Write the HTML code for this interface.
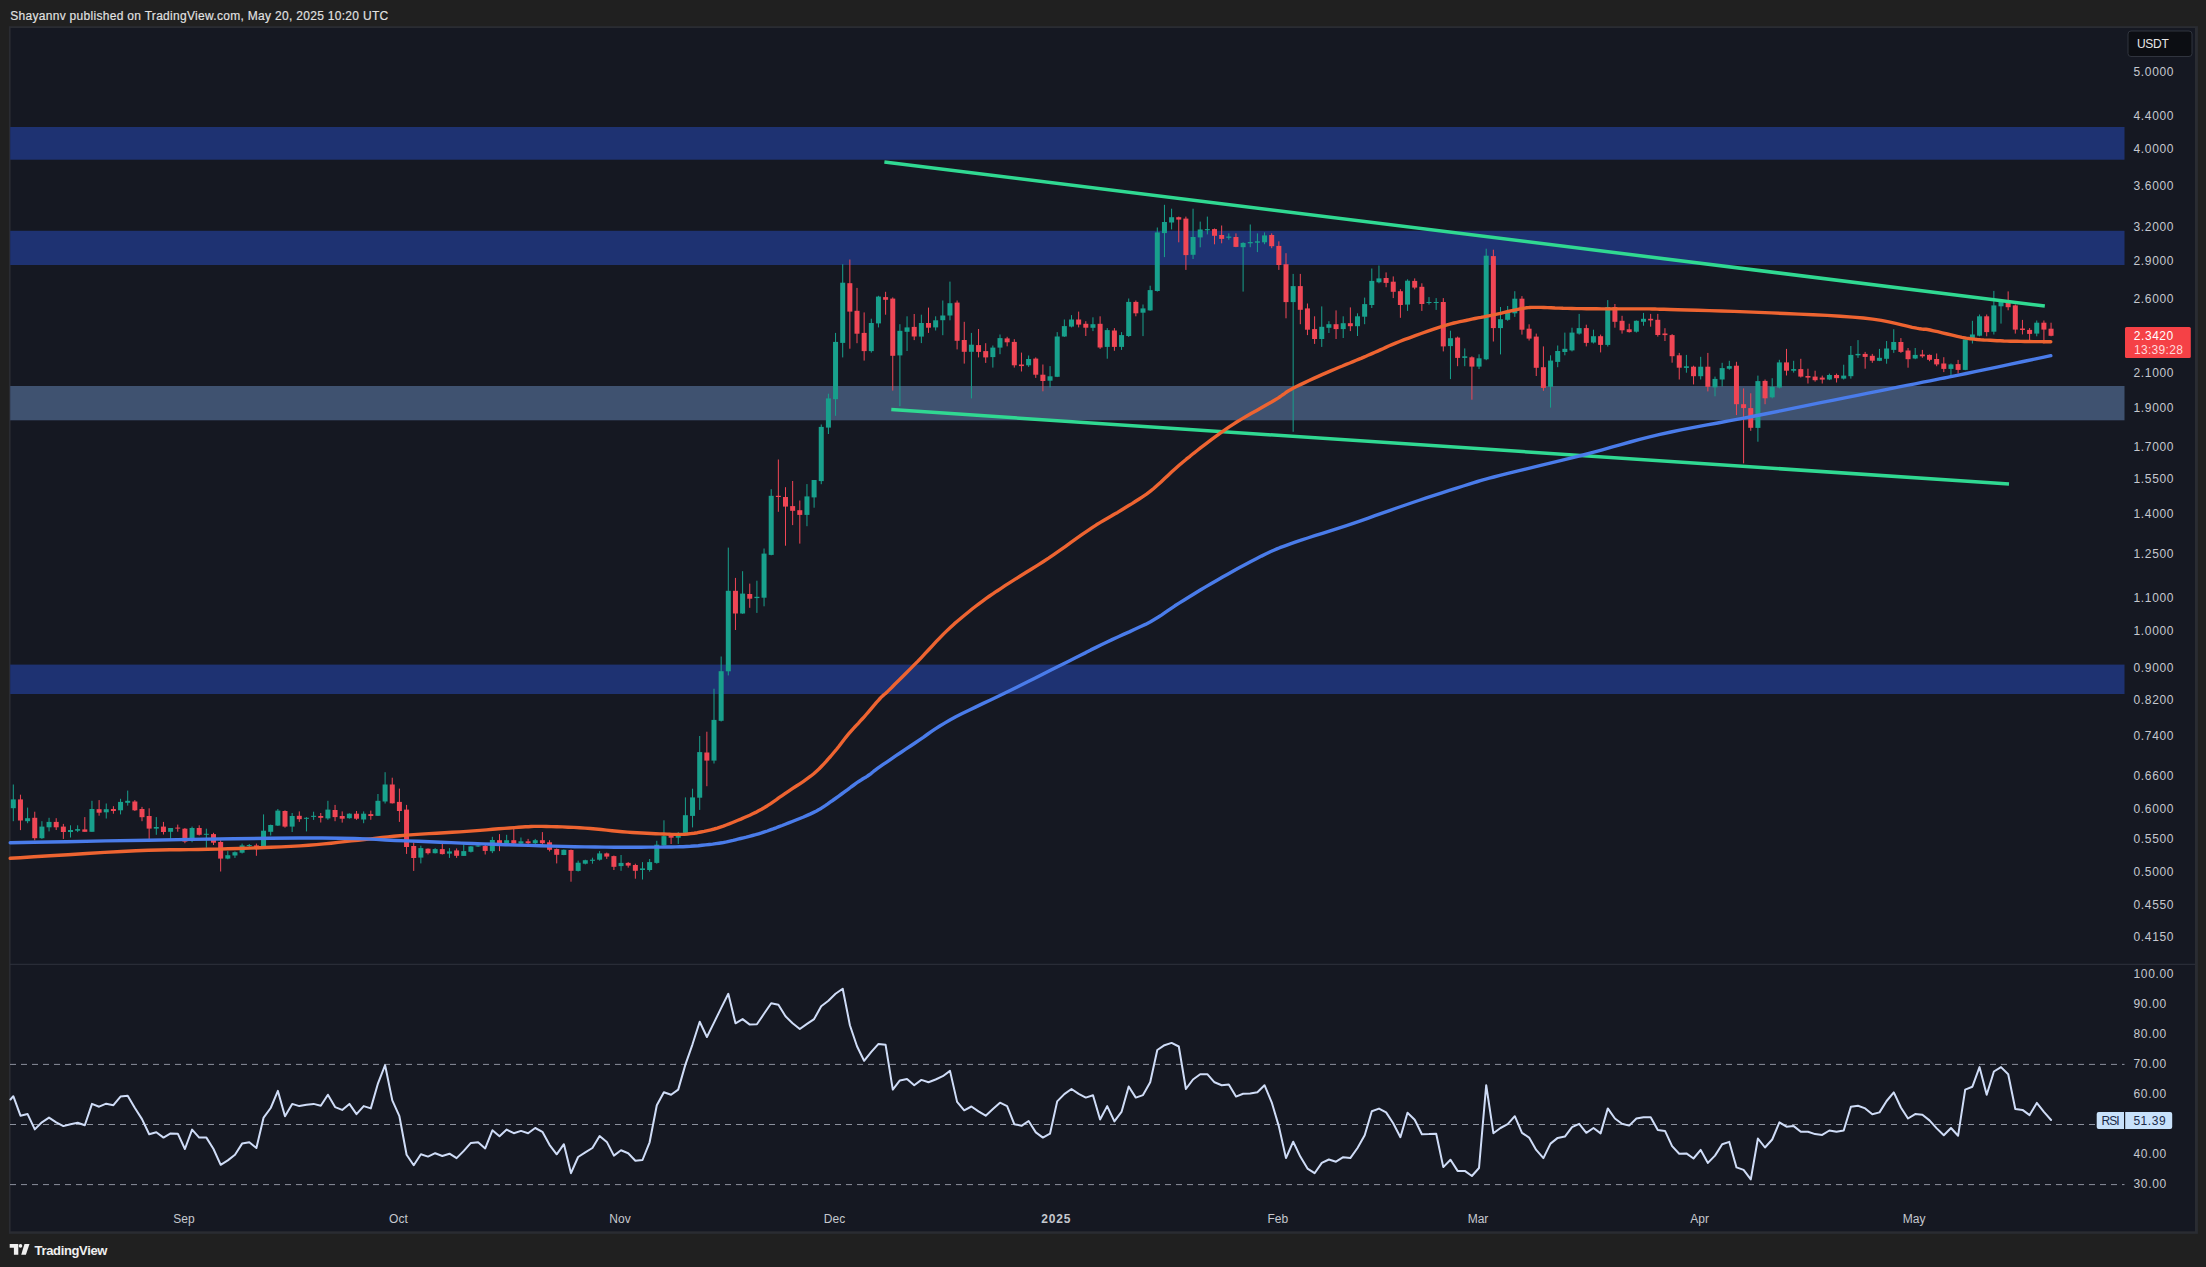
<!DOCTYPE html>
<html><head><meta charset="utf-8"><title>Chart</title>
<style>html,body{margin:0;padding:0;background:#202020;}body{width:2206px;height:1267px;overflow:hidden;font-family:"Liberation Sans",sans-serif;}</style>
</head><body>
<svg width="2206" height="1267" viewBox="0 0 2206 1267" style="display:block">
<rect width="2206" height="1267" fill="#202020"/>
<rect x="8.9" y="26.2" width="2189" height="1207.6" fill="#2a2c32"/>
<rect x="10.6" y="28" width="2184.4" height="1203.3" fill="#151822"/>
<rect x="10.2" y="127" width="2114.3" height="32.7" fill="#1e3272"/>
<rect x="10.2" y="230.8" width="2114.3" height="34.2" fill="#1e3272"/>
<rect x="10.2" y="386" width="2114.3" height="34.3" fill="#3f5270"/>
<rect x="10.2" y="664.6" width="2114.3" height="29.4" fill="#1e3272"/>
<rect x="10" y="963.8" width="2185" height="1" fill="#2e323d"/>
<rect x="12.80" y="784.5" width="1" height="36.7" fill="#18a08c"/>
<rect x="10.80" y="799.4" width="5" height="8.8" fill="#18a08c"/>
<rect x="19.95" y="794.7" width="1" height="35.4" fill="#f04655"/>
<rect x="17.95" y="799.4" width="5" height="21.1" fill="#f04655"/>
<rect x="27.10" y="807.6" width="1" height="15.6" fill="#18a08c"/>
<rect x="25.10" y="818.2" width="5" height="3.0" fill="#18a08c"/>
<rect x="34.25" y="811.7" width="1" height="28.6" fill="#f04655"/>
<rect x="32.25" y="817.8" width="5" height="20.4" fill="#f04655"/>
<rect x="41.40" y="821.2" width="1" height="17.7" fill="#18a08c"/>
<rect x="39.40" y="826.6" width="5" height="11.6" fill="#18a08c"/>
<rect x="48.55" y="817.8" width="1" height="13.6" fill="#18a08c"/>
<rect x="46.55" y="821.9" width="5" height="5.4" fill="#18a08c"/>
<rect x="55.70" y="818.2" width="1" height="11.8" fill="#f04655"/>
<rect x="53.70" y="821.9" width="5" height="5.4" fill="#f04655"/>
<rect x="62.85" y="823.9" width="1" height="15.0" fill="#f04655"/>
<rect x="60.85" y="826.6" width="5" height="5.4" fill="#f04655"/>
<rect x="70.00" y="825.3" width="1" height="12.2" fill="#18a08c"/>
<rect x="68.00" y="830.0" width="5" height="2.0" fill="#18a08c"/>
<rect x="77.15" y="825.3" width="1" height="6.8" fill="#18a08c"/>
<rect x="75.15" y="829.1" width="5" height="1.6" fill="#18a08c"/>
<rect x="84.30" y="817.1" width="1" height="14.7" fill="#f04655"/>
<rect x="82.30" y="829.4" width="5" height="2.4" fill="#f04655"/>
<rect x="91.45" y="800.8" width="1" height="31.0" fill="#18a08c"/>
<rect x="89.45" y="809.0" width="5" height="22.8" fill="#18a08c"/>
<rect x="98.60" y="800.1" width="1" height="15.6" fill="#f04655"/>
<rect x="96.60" y="809.2" width="5" height="3.5" fill="#f04655"/>
<rect x="105.75" y="803.5" width="1" height="15.0" fill="#18a08c"/>
<rect x="103.75" y="809.2" width="5" height="3.1" fill="#18a08c"/>
<rect x="112.90" y="806.2" width="1" height="7.5" fill="#f04655"/>
<rect x="110.90" y="809.0" width="5" height="2.0" fill="#f04655"/>
<rect x="120.05" y="798.8" width="1" height="15.6" fill="#18a08c"/>
<rect x="118.05" y="801.9" width="5" height="8.4" fill="#18a08c"/>
<rect x="127.20" y="790.6" width="1" height="15.0" fill="#18a08c"/>
<rect x="125.20" y="800.8" width="5" height="2.0" fill="#18a08c"/>
<rect x="134.35" y="800.1" width="1" height="10.9" fill="#f04655"/>
<rect x="132.35" y="801.5" width="5" height="8.8" fill="#f04655"/>
<rect x="141.50" y="806.9" width="1" height="14.3" fill="#f04655"/>
<rect x="139.50" y="809.0" width="5" height="8.2" fill="#f04655"/>
<rect x="148.65" y="808.3" width="1" height="31.3" fill="#f04655"/>
<rect x="146.65" y="816.0" width="5" height="12.6" fill="#f04655"/>
<rect x="155.80" y="817.1" width="1" height="17.7" fill="#18a08c"/>
<rect x="153.80" y="827.0" width="5" height="1.6" fill="#18a08c"/>
<rect x="162.95" y="821.9" width="1" height="12.6" fill="#f04655"/>
<rect x="160.95" y="826.6" width="5" height="5.4" fill="#f04655"/>
<rect x="170.10" y="828.0" width="1" height="12.2" fill="#18a08c"/>
<rect x="168.10" y="828.0" width="5" height="3.8" fill="#18a08c"/>
<rect x="177.25" y="824.6" width="1" height="7.1" fill="#f04655"/>
<rect x="175.25" y="827.6" width="5" height="1.0" fill="#f04655"/>
<rect x="184.40" y="828.0" width="1" height="15.2" fill="#f04655"/>
<rect x="182.40" y="828.7" width="5" height="12.9" fill="#f04655"/>
<rect x="191.55" y="826.6" width="1" height="15.6" fill="#18a08c"/>
<rect x="189.55" y="828.0" width="5" height="12.9" fill="#18a08c"/>
<rect x="198.70" y="825.3" width="1" height="10.2" fill="#f04655"/>
<rect x="196.70" y="828.0" width="5" height="6.8" fill="#f04655"/>
<rect x="205.85" y="828.7" width="1" height="19.0" fill="#18a08c"/>
<rect x="203.85" y="833.8" width="5" height="1.0" fill="#18a08c"/>
<rect x="213.00" y="832.8" width="1" height="12.2" fill="#f04655"/>
<rect x="211.00" y="834.1" width="5" height="8.6" fill="#f04655"/>
<rect x="220.15" y="840.2" width="1" height="31.3" fill="#f04655"/>
<rect x="218.15" y="842.0" width="5" height="16.6" fill="#f04655"/>
<rect x="227.30" y="851.1" width="1" height="8.2" fill="#18a08c"/>
<rect x="225.30" y="855.2" width="5" height="3.4" fill="#18a08c"/>
<rect x="234.45" y="851.4" width="1" height="6.5" fill="#18a08c"/>
<rect x="232.45" y="852.2" width="5" height="3.3" fill="#18a08c"/>
<rect x="241.60" y="843.6" width="1" height="9.9" fill="#18a08c"/>
<rect x="239.60" y="845.4" width="5" height="7.3" fill="#18a08c"/>
<rect x="248.75" y="844.0" width="1" height="3.0" fill="#18a08c"/>
<rect x="246.75" y="845.0" width="5" height="1.0" fill="#18a08c"/>
<rect x="255.90" y="843.6" width="1" height="12.2" fill="#f04655"/>
<rect x="253.90" y="845.4" width="5" height="3.7" fill="#f04655"/>
<rect x="263.05" y="814.4" width="1" height="34.0" fill="#18a08c"/>
<rect x="261.05" y="830.7" width="5" height="16.3" fill="#18a08c"/>
<rect x="270.20" y="824.6" width="1" height="10.9" fill="#18a08c"/>
<rect x="268.20" y="825.0" width="5" height="6.8" fill="#18a08c"/>
<rect x="277.35" y="809.0" width="1" height="17.0" fill="#18a08c"/>
<rect x="275.35" y="810.6" width="5" height="15.0" fill="#18a08c"/>
<rect x="284.50" y="810.3" width="1" height="17.4" fill="#f04655"/>
<rect x="282.50" y="811.0" width="5" height="15.6" fill="#f04655"/>
<rect x="291.65" y="813.0" width="1" height="19.0" fill="#18a08c"/>
<rect x="289.65" y="816.0" width="5" height="10.6" fill="#18a08c"/>
<rect x="298.80" y="811.4" width="1" height="10.5" fill="#f04655"/>
<rect x="296.80" y="815.8" width="5" height="3.4" fill="#f04655"/>
<rect x="305.95" y="817.1" width="1" height="14.3" fill="#18a08c"/>
<rect x="303.95" y="817.8" width="5" height="1.0" fill="#18a08c"/>
<rect x="313.10" y="811.7" width="1" height="8.2" fill="#18a08c"/>
<rect x="311.10" y="815.8" width="5" height="1.1" fill="#18a08c"/>
<rect x="320.25" y="813.0" width="1" height="9.5" fill="#f04655"/>
<rect x="318.25" y="816.0" width="5" height="1.8" fill="#f04655"/>
<rect x="327.40" y="800.8" width="1" height="19.0" fill="#18a08c"/>
<rect x="325.40" y="809.6" width="5" height="8.8" fill="#18a08c"/>
<rect x="334.55" y="804.9" width="1" height="16.3" fill="#f04655"/>
<rect x="332.55" y="810.0" width="5" height="7.1" fill="#f04655"/>
<rect x="341.70" y="811.4" width="1" height="11.2" fill="#f04655"/>
<rect x="339.70" y="816.0" width="5" height="2.7" fill="#f04655"/>
<rect x="348.85" y="813.3" width="1" height="5.4" fill="#18a08c"/>
<rect x="346.85" y="813.7" width="5" height="4.5" fill="#18a08c"/>
<rect x="356.00" y="811.0" width="1" height="8.8" fill="#f04655"/>
<rect x="354.00" y="813.7" width="5" height="5.0" fill="#f04655"/>
<rect x="363.15" y="811.4" width="1" height="11.8" fill="#18a08c"/>
<rect x="361.15" y="813.7" width="5" height="5.8" fill="#18a08c"/>
<rect x="370.30" y="810.6" width="1" height="9.2" fill="#f04655"/>
<rect x="368.30" y="814.1" width="5" height="1.9" fill="#f04655"/>
<rect x="377.45" y="794.0" width="1" height="22.0" fill="#18a08c"/>
<rect x="375.45" y="800.8" width="5" height="15.0" fill="#18a08c"/>
<rect x="384.60" y="772.2" width="1" height="31.3" fill="#18a08c"/>
<rect x="382.60" y="784.5" width="5" height="17.0" fill="#18a08c"/>
<rect x="391.75" y="777.7" width="1" height="25.8" fill="#f04655"/>
<rect x="389.75" y="784.5" width="5" height="18.8" fill="#f04655"/>
<rect x="398.90" y="788.6" width="1" height="33.3" fill="#f04655"/>
<rect x="396.90" y="801.9" width="5" height="9.1" fill="#f04655"/>
<rect x="406.05" y="804.9" width="1" height="49.0" fill="#f04655"/>
<rect x="404.05" y="809.6" width="5" height="37.4" fill="#f04655"/>
<rect x="413.20" y="842.3" width="1" height="28.6" fill="#f04655"/>
<rect x="411.20" y="846.0" width="5" height="12.0" fill="#f04655"/>
<rect x="420.35" y="845.7" width="1" height="17.7" fill="#18a08c"/>
<rect x="418.35" y="848.1" width="5" height="9.5" fill="#18a08c"/>
<rect x="427.50" y="848.4" width="1" height="6.1" fill="#f04655"/>
<rect x="425.50" y="848.7" width="5" height="4.5" fill="#f04655"/>
<rect x="434.65" y="848.1" width="1" height="5.4" fill="#18a08c"/>
<rect x="432.65" y="849.1" width="5" height="4.1" fill="#18a08c"/>
<rect x="441.80" y="841.6" width="1" height="12.9" fill="#f04655"/>
<rect x="439.80" y="849.1" width="5" height="5.0" fill="#f04655"/>
<rect x="448.95" y="848.1" width="1" height="9.8" fill="#18a08c"/>
<rect x="446.95" y="851.4" width="5" height="2.2" fill="#18a08c"/>
<rect x="456.10" y="848.4" width="1" height="9.5" fill="#f04655"/>
<rect x="454.10" y="850.4" width="5" height="5.4" fill="#f04655"/>
<rect x="463.25" y="844.3" width="1" height="11.6" fill="#18a08c"/>
<rect x="461.25" y="851.1" width="5" height="4.8" fill="#18a08c"/>
<rect x="470.40" y="846.0" width="1" height="6.5" fill="#18a08c"/>
<rect x="468.40" y="846.4" width="5" height="5.4" fill="#18a08c"/>
<rect x="477.55" y="844.3" width="1" height="2.7" fill="#18a08c"/>
<rect x="475.55" y="845.4" width="5" height="1.1" fill="#18a08c"/>
<rect x="484.70" y="845.0" width="1" height="9.5" fill="#f04655"/>
<rect x="482.70" y="846.0" width="5" height="4.9" fill="#f04655"/>
<rect x="491.85" y="836.8" width="1" height="16.3" fill="#18a08c"/>
<rect x="489.85" y="840.0" width="5" height="11.2" fill="#18a08c"/>
<rect x="499.00" y="834.1" width="1" height="17.0" fill="#f04655"/>
<rect x="497.00" y="840.2" width="5" height="3.4" fill="#f04655"/>
<rect x="506.15" y="834.8" width="1" height="10.2" fill="#18a08c"/>
<rect x="504.15" y="840.2" width="5" height="3.4" fill="#18a08c"/>
<rect x="513.30" y="828.0" width="1" height="17.0" fill="#f04655"/>
<rect x="511.30" y="840.2" width="5" height="3.4" fill="#f04655"/>
<rect x="520.45" y="837.5" width="1" height="6.8" fill="#18a08c"/>
<rect x="518.45" y="841.3" width="5" height="2.3" fill="#18a08c"/>
<rect x="527.60" y="838.9" width="1" height="6.1" fill="#f04655"/>
<rect x="525.60" y="841.3" width="5" height="1.9" fill="#f04655"/>
<rect x="534.75" y="838.9" width="1" height="6.1" fill="#18a08c"/>
<rect x="532.75" y="840.2" width="5" height="3.0" fill="#18a08c"/>
<rect x="541.90" y="832.1" width="1" height="13.6" fill="#f04655"/>
<rect x="539.90" y="840.2" width="5" height="3.0" fill="#f04655"/>
<rect x="549.05" y="840.2" width="1" height="11.2" fill="#f04655"/>
<rect x="547.05" y="842.3" width="5" height="7.5" fill="#f04655"/>
<rect x="556.20" y="848.4" width="1" height="15.0" fill="#f04655"/>
<rect x="554.20" y="849.1" width="5" height="5.7" fill="#f04655"/>
<rect x="563.35" y="849.5" width="1" height="5.7" fill="#18a08c"/>
<rect x="561.35" y="849.8" width="5" height="5.2" fill="#18a08c"/>
<rect x="570.50" y="849.5" width="1" height="32.2" fill="#f04655"/>
<rect x="568.50" y="850.0" width="5" height="20.8" fill="#f04655"/>
<rect x="577.65" y="860.6" width="1" height="10.9" fill="#18a08c"/>
<rect x="575.65" y="862.7" width="5" height="8.2" fill="#18a08c"/>
<rect x="584.80" y="859.7" width="1" height="4.7" fill="#18a08c"/>
<rect x="582.80" y="860.2" width="5" height="3.5" fill="#18a08c"/>
<rect x="591.95" y="857.7" width="1" height="6.0" fill="#18a08c"/>
<rect x="589.95" y="859.7" width="5" height="1.1" fill="#18a08c"/>
<rect x="599.10" y="851.1" width="1" height="9.5" fill="#18a08c"/>
<rect x="597.10" y="853.4" width="5" height="6.3" fill="#18a08c"/>
<rect x="606.25" y="852.6" width="1" height="6.3" fill="#f04655"/>
<rect x="604.25" y="853.4" width="5" height="3.2" fill="#f04655"/>
<rect x="613.40" y="855.5" width="1" height="14.5" fill="#f04655"/>
<rect x="611.40" y="856.1" width="5" height="10.7" fill="#f04655"/>
<rect x="620.55" y="855.0" width="1" height="15.8" fill="#18a08c"/>
<rect x="618.55" y="862.9" width="5" height="3.2" fill="#18a08c"/>
<rect x="627.70" y="862.1" width="1" height="5.5" fill="#f04655"/>
<rect x="625.70" y="862.9" width="5" height="2.7" fill="#f04655"/>
<rect x="634.85" y="863.7" width="1" height="15.0" fill="#f04655"/>
<rect x="632.85" y="865.0" width="5" height="5.8" fill="#f04655"/>
<rect x="642.00" y="862.1" width="1" height="17.4" fill="#18a08c"/>
<rect x="640.00" y="868.4" width="5" height="1.6" fill="#18a08c"/>
<rect x="649.15" y="859.0" width="1" height="12.6" fill="#18a08c"/>
<rect x="647.15" y="862.1" width="5" height="7.9" fill="#18a08c"/>
<rect x="656.30" y="840.8" width="1" height="22.9" fill="#18a08c"/>
<rect x="654.30" y="844.7" width="5" height="18.2" fill="#18a08c"/>
<rect x="663.45" y="820.3" width="1" height="26.1" fill="#18a08c"/>
<rect x="661.45" y="836.1" width="5" height="9.5" fill="#18a08c"/>
<rect x="670.60" y="832.9" width="1" height="11.1" fill="#f04655"/>
<rect x="668.60" y="834.5" width="5" height="3.2" fill="#f04655"/>
<rect x="677.75" y="832.1" width="1" height="11.8" fill="#18a08c"/>
<rect x="675.75" y="835.3" width="5" height="2.4" fill="#18a08c"/>
<rect x="684.90" y="797.4" width="1" height="35.5" fill="#18a08c"/>
<rect x="682.90" y="815.2" width="5" height="17.7" fill="#18a08c"/>
<rect x="692.05" y="788.7" width="1" height="38.7" fill="#18a08c"/>
<rect x="690.05" y="797.4" width="5" height="18.5" fill="#18a08c"/>
<rect x="699.20" y="736.0" width="1" height="73.9" fill="#18a08c"/>
<rect x="697.20" y="752.1" width="5" height="45.6" fill="#18a08c"/>
<rect x="706.35" y="731.7" width="1" height="54.5" fill="#f04655"/>
<rect x="704.35" y="752.5" width="5" height="8.1" fill="#f04655"/>
<rect x="713.50" y="688.7" width="1" height="74.8" fill="#18a08c"/>
<rect x="711.50" y="719.9" width="5" height="40.7" fill="#18a08c"/>
<rect x="720.65" y="656.5" width="1" height="65.0" fill="#18a08c"/>
<rect x="718.65" y="671.2" width="5" height="49.6" fill="#18a08c"/>
<rect x="727.80" y="547.6" width="1" height="127.8" fill="#18a08c"/>
<rect x="725.80" y="590.8" width="5" height="80.5" fill="#18a08c"/>
<rect x="734.95" y="577.9" width="1" height="52.1" fill="#f04655"/>
<rect x="732.95" y="590.8" width="5" height="22.7" fill="#f04655"/>
<rect x="742.10" y="571.2" width="1" height="42.6" fill="#18a08c"/>
<rect x="740.10" y="593.6" width="5" height="19.9" fill="#18a08c"/>
<rect x="749.25" y="583.6" width="1" height="24.2" fill="#f04655"/>
<rect x="747.25" y="594.0" width="5" height="4.7" fill="#f04655"/>
<rect x="756.40" y="580.7" width="1" height="32.2" fill="#18a08c"/>
<rect x="754.40" y="596.8" width="5" height="1.3" fill="#18a08c"/>
<rect x="763.55" y="548.5" width="1" height="57.8" fill="#18a08c"/>
<rect x="761.55" y="553.6" width="5" height="44.1" fill="#18a08c"/>
<rect x="770.70" y="489.2" width="1" height="66.1" fill="#18a08c"/>
<rect x="768.70" y="495.8" width="5" height="59.1" fill="#18a08c"/>
<rect x="777.85" y="459.5" width="1" height="52.3" fill="#f04655"/>
<rect x="775.85" y="495.8" width="5" height="1.2" fill="#f04655"/>
<rect x="785.00" y="487.2" width="1" height="58.5" fill="#f04655"/>
<rect x="783.00" y="497.0" width="5" height="9.6" fill="#f04655"/>
<rect x="792.15" y="481.0" width="1" height="44.1" fill="#f04655"/>
<rect x="790.15" y="506.1" width="5" height="4.7" fill="#f04655"/>
<rect x="799.30" y="500.5" width="1" height="43.1" fill="#f04655"/>
<rect x="797.30" y="510.2" width="5" height="4.7" fill="#f04655"/>
<rect x="806.45" y="484.1" width="1" height="42.1" fill="#18a08c"/>
<rect x="804.45" y="496.4" width="5" height="18.5" fill="#18a08c"/>
<rect x="813.60" y="480.0" width="1" height="27.7" fill="#18a08c"/>
<rect x="811.60" y="480.0" width="5" height="17.4" fill="#18a08c"/>
<rect x="820.75" y="424.5" width="1" height="59.7" fill="#18a08c"/>
<rect x="818.75" y="426.9" width="5" height="54.2" fill="#18a08c"/>
<rect x="827.90" y="393.7" width="1" height="40.3" fill="#18a08c"/>
<rect x="825.90" y="398.4" width="5" height="29.2" fill="#18a08c"/>
<rect x="835.05" y="332.9" width="1" height="82.9" fill="#18a08c"/>
<rect x="833.05" y="341.9" width="5" height="57.3" fill="#18a08c"/>
<rect x="842.20" y="264.2" width="1" height="93.2" fill="#18a08c"/>
<rect x="840.20" y="282.7" width="5" height="60.2" fill="#18a08c"/>
<rect x="849.35" y="259.5" width="1" height="89.2" fill="#f04655"/>
<rect x="847.35" y="283.2" width="5" height="28.4" fill="#f04655"/>
<rect x="856.50" y="287.9" width="1" height="55.3" fill="#f04655"/>
<rect x="854.50" y="310.8" width="5" height="22.9" fill="#f04655"/>
<rect x="863.65" y="312.4" width="1" height="48.2" fill="#f04655"/>
<rect x="861.65" y="332.9" width="5" height="18.2" fill="#f04655"/>
<rect x="870.80" y="318.7" width="1" height="33.9" fill="#18a08c"/>
<rect x="868.80" y="323.0" width="5" height="28.1" fill="#18a08c"/>
<rect x="877.95" y="295.8" width="1" height="31.6" fill="#18a08c"/>
<rect x="875.95" y="296.6" width="5" height="26.8" fill="#18a08c"/>
<rect x="885.10" y="291.8" width="1" height="22.9" fill="#f04655"/>
<rect x="883.10" y="297.1" width="5" height="2.7" fill="#f04655"/>
<rect x="892.25" y="297.4" width="1" height="93.2" fill="#f04655"/>
<rect x="890.25" y="298.6" width="5" height="57.2" fill="#f04655"/>
<rect x="899.40" y="324.2" width="1" height="82.1" fill="#18a08c"/>
<rect x="897.40" y="330.8" width="5" height="24.6" fill="#18a08c"/>
<rect x="906.55" y="316.3" width="1" height="34.7" fill="#18a08c"/>
<rect x="904.55" y="327.4" width="5" height="4.4" fill="#18a08c"/>
<rect x="913.70" y="314.0" width="1" height="26.1" fill="#f04655"/>
<rect x="911.70" y="326.9" width="5" height="9.6" fill="#f04655"/>
<rect x="920.85" y="314.7" width="1" height="28.4" fill="#18a08c"/>
<rect x="918.85" y="323.0" width="5" height="13.6" fill="#18a08c"/>
<rect x="928.00" y="307.6" width="1" height="25.3" fill="#f04655"/>
<rect x="926.00" y="323.0" width="5" height="4.7" fill="#f04655"/>
<rect x="935.15" y="316.3" width="1" height="14.2" fill="#18a08c"/>
<rect x="933.15" y="320.3" width="5" height="7.1" fill="#18a08c"/>
<rect x="942.30" y="300.5" width="1" height="34.7" fill="#18a08c"/>
<rect x="940.30" y="315.5" width="5" height="4.7" fill="#18a08c"/>
<rect x="949.45" y="281.6" width="1" height="38.7" fill="#18a08c"/>
<rect x="947.45" y="303.2" width="5" height="12.3" fill="#18a08c"/>
<rect x="956.60" y="300.5" width="1" height="48.9" fill="#f04655"/>
<rect x="954.60" y="302.6" width="5" height="38.2" fill="#f04655"/>
<rect x="963.75" y="321.8" width="1" height="41.8" fill="#f04655"/>
<rect x="961.75" y="340.0" width="5" height="11.8" fill="#f04655"/>
<rect x="970.90" y="332.9" width="1" height="65.5" fill="#18a08c"/>
<rect x="968.90" y="344.7" width="5" height="7.1" fill="#18a08c"/>
<rect x="978.05" y="329.0" width="1" height="28.4" fill="#f04655"/>
<rect x="976.05" y="345.1" width="5" height="6.8" fill="#f04655"/>
<rect x="985.20" y="343.2" width="1" height="19.7" fill="#f04655"/>
<rect x="983.20" y="351.1" width="5" height="6.3" fill="#f04655"/>
<rect x="992.35" y="345.5" width="1" height="22.1" fill="#18a08c"/>
<rect x="990.35" y="347.6" width="5" height="9.5" fill="#18a08c"/>
<rect x="999.50" y="334.5" width="1" height="19.7" fill="#18a08c"/>
<rect x="997.50" y="338.1" width="5" height="9.5" fill="#18a08c"/>
<rect x="1006.65" y="336.8" width="1" height="9.5" fill="#f04655"/>
<rect x="1004.65" y="338.4" width="5" height="3.9" fill="#f04655"/>
<rect x="1013.80" y="339.2" width="1" height="28.4" fill="#f04655"/>
<rect x="1011.80" y="341.9" width="5" height="23.4" fill="#f04655"/>
<rect x="1020.95" y="352.6" width="1" height="18.9" fill="#f04655"/>
<rect x="1018.95" y="364.5" width="5" height="1.6" fill="#f04655"/>
<rect x="1028.10" y="355.5" width="1" height="11.4" fill="#18a08c"/>
<rect x="1026.10" y="359.0" width="5" height="6.3" fill="#18a08c"/>
<rect x="1035.25" y="357.4" width="1" height="20.5" fill="#f04655"/>
<rect x="1033.25" y="358.6" width="5" height="16.1" fill="#f04655"/>
<rect x="1042.40" y="364.5" width="1" height="26.8" fill="#f04655"/>
<rect x="1040.40" y="374.7" width="5" height="6.3" fill="#f04655"/>
<rect x="1049.55" y="366.1" width="1" height="21.3" fill="#18a08c"/>
<rect x="1047.55" y="376.3" width="5" height="4.4" fill="#18a08c"/>
<rect x="1056.70" y="332.1" width="1" height="45.0" fill="#18a08c"/>
<rect x="1054.70" y="336.5" width="5" height="40.3" fill="#18a08c"/>
<rect x="1063.85" y="319.5" width="1" height="17.4" fill="#18a08c"/>
<rect x="1061.85" y="326.1" width="5" height="10.4" fill="#18a08c"/>
<rect x="1071.00" y="315.1" width="1" height="12.3" fill="#18a08c"/>
<rect x="1069.00" y="319.5" width="5" height="7.1" fill="#18a08c"/>
<rect x="1078.15" y="311.6" width="1" height="15.8" fill="#f04655"/>
<rect x="1076.15" y="319.5" width="5" height="5.1" fill="#f04655"/>
<rect x="1085.30" y="321.2" width="1" height="14.8" fill="#f04655"/>
<rect x="1083.30" y="323.8" width="5" height="3.9" fill="#f04655"/>
<rect x="1092.45" y="317.3" width="1" height="13.8" fill="#18a08c"/>
<rect x="1090.45" y="324.2" width="5" height="3.6" fill="#18a08c"/>
<rect x="1099.60" y="316.3" width="1" height="32.6" fill="#f04655"/>
<rect x="1097.60" y="323.8" width="5" height="23.7" fill="#f04655"/>
<rect x="1106.75" y="328.1" width="1" height="30.6" fill="#18a08c"/>
<rect x="1104.75" y="330.1" width="5" height="16.8" fill="#18a08c"/>
<rect x="1113.90" y="328.1" width="1" height="22.7" fill="#f04655"/>
<rect x="1111.90" y="330.5" width="5" height="16.4" fill="#f04655"/>
<rect x="1121.05" y="332.1" width="1" height="17.8" fill="#18a08c"/>
<rect x="1119.05" y="335.1" width="5" height="11.8" fill="#18a08c"/>
<rect x="1128.20" y="298.5" width="1" height="38.5" fill="#18a08c"/>
<rect x="1126.20" y="301.9" width="5" height="34.1" fill="#18a08c"/>
<rect x="1135.35" y="300.5" width="1" height="15.8" fill="#f04655"/>
<rect x="1133.35" y="301.9" width="5" height="11.4" fill="#f04655"/>
<rect x="1142.50" y="304.5" width="1" height="31.6" fill="#18a08c"/>
<rect x="1140.50" y="308.4" width="5" height="4.3" fill="#18a08c"/>
<rect x="1149.65" y="285.7" width="1" height="25.1" fill="#18a08c"/>
<rect x="1147.65" y="290.1" width="5" height="20.3" fill="#18a08c"/>
<rect x="1156.80" y="227.5" width="1" height="64.1" fill="#18a08c"/>
<rect x="1154.80" y="232.4" width="5" height="58.6" fill="#18a08c"/>
<rect x="1163.95" y="204.8" width="1" height="52.3" fill="#18a08c"/>
<rect x="1161.95" y="222.0" width="5" height="11.1" fill="#18a08c"/>
<rect x="1171.10" y="208.7" width="1" height="20.7" fill="#18a08c"/>
<rect x="1169.10" y="217.2" width="5" height="5.3" fill="#18a08c"/>
<rect x="1178.25" y="216.6" width="1" height="25.7" fill="#f04655"/>
<rect x="1176.25" y="217.2" width="5" height="2.4" fill="#f04655"/>
<rect x="1185.40" y="216.6" width="1" height="53.3" fill="#f04655"/>
<rect x="1183.40" y="218.6" width="5" height="36.5" fill="#f04655"/>
<rect x="1192.55" y="208.7" width="1" height="50.3" fill="#18a08c"/>
<rect x="1190.55" y="237.0" width="5" height="17.8" fill="#18a08c"/>
<rect x="1199.70" y="221.6" width="1" height="25.7" fill="#18a08c"/>
<rect x="1197.70" y="229.5" width="5" height="7.9" fill="#18a08c"/>
<rect x="1206.85" y="216.6" width="1" height="17.8" fill="#18a08c"/>
<rect x="1204.85" y="229.1" width="5" height="1.2" fill="#18a08c"/>
<rect x="1214.00" y="228.5" width="1" height="15.8" fill="#f04655"/>
<rect x="1212.00" y="229.1" width="5" height="6.7" fill="#f04655"/>
<rect x="1221.15" y="225.5" width="1" height="17.8" fill="#f04655"/>
<rect x="1219.15" y="235.0" width="5" height="3.9" fill="#f04655"/>
<rect x="1228.30" y="233.4" width="1" height="6.3" fill="#18a08c"/>
<rect x="1226.30" y="236.6" width="5" height="1.2" fill="#18a08c"/>
<rect x="1235.45" y="233.4" width="1" height="13.8" fill="#f04655"/>
<rect x="1233.45" y="237.0" width="5" height="9.9" fill="#f04655"/>
<rect x="1242.60" y="242.3" width="1" height="49.3" fill="#18a08c"/>
<rect x="1240.60" y="242.9" width="5" height="4.3" fill="#18a08c"/>
<rect x="1249.75" y="224.5" width="1" height="22.7" fill="#18a08c"/>
<rect x="1247.75" y="242.1" width="5" height="1.2" fill="#18a08c"/>
<rect x="1256.90" y="233.4" width="1" height="18.7" fill="#18a08c"/>
<rect x="1254.90" y="241.3" width="5" height="1.4" fill="#18a08c"/>
<rect x="1264.05" y="232.4" width="1" height="11.8" fill="#18a08c"/>
<rect x="1262.05" y="235.4" width="5" height="6.9" fill="#18a08c"/>
<rect x="1271.20" y="233.4" width="1" height="14.8" fill="#f04655"/>
<rect x="1269.20" y="235.0" width="5" height="11.2" fill="#f04655"/>
<rect x="1278.35" y="241.3" width="1" height="28.6" fill="#f04655"/>
<rect x="1276.35" y="245.9" width="5" height="19.1" fill="#f04655"/>
<rect x="1285.50" y="253.2" width="1" height="65.1" fill="#f04655"/>
<rect x="1283.50" y="264.2" width="5" height="37.9" fill="#f04655"/>
<rect x="1292.65" y="273.9" width="1" height="157.9" fill="#18a08c"/>
<rect x="1290.65" y="286.1" width="5" height="16.0" fill="#18a08c"/>
<rect x="1299.80" y="273.9" width="1" height="50.3" fill="#f04655"/>
<rect x="1297.80" y="286.1" width="5" height="23.7" fill="#f04655"/>
<rect x="1306.95" y="303.5" width="1" height="31.6" fill="#f04655"/>
<rect x="1304.95" y="308.4" width="5" height="21.3" fill="#f04655"/>
<rect x="1314.10" y="316.3" width="1" height="27.6" fill="#f04655"/>
<rect x="1312.10" y="329.1" width="5" height="9.9" fill="#f04655"/>
<rect x="1321.25" y="306.4" width="1" height="40.5" fill="#18a08c"/>
<rect x="1319.25" y="326.8" width="5" height="12.2" fill="#18a08c"/>
<rect x="1328.40" y="321.2" width="1" height="11.8" fill="#18a08c"/>
<rect x="1326.40" y="324.2" width="5" height="3.6" fill="#18a08c"/>
<rect x="1335.55" y="310.4" width="1" height="28.6" fill="#f04655"/>
<rect x="1333.55" y="324.2" width="5" height="4.9" fill="#f04655"/>
<rect x="1342.70" y="316.3" width="1" height="21.7" fill="#18a08c"/>
<rect x="1340.70" y="323.2" width="5" height="5.9" fill="#18a08c"/>
<rect x="1349.85" y="307.4" width="1" height="23.7" fill="#f04655"/>
<rect x="1347.85" y="323.2" width="5" height="3.0" fill="#f04655"/>
<rect x="1357.00" y="313.3" width="1" height="22.7" fill="#18a08c"/>
<rect x="1355.00" y="316.3" width="5" height="9.9" fill="#18a08c"/>
<rect x="1364.15" y="297.6" width="1" height="26.6" fill="#18a08c"/>
<rect x="1362.15" y="304.1" width="5" height="12.6" fill="#18a08c"/>
<rect x="1371.30" y="268.5" width="1" height="39.5" fill="#18a08c"/>
<rect x="1369.30" y="280.9" width="5" height="24.1" fill="#18a08c"/>
<rect x="1378.45" y="265.5" width="1" height="17.8" fill="#18a08c"/>
<rect x="1376.45" y="278.4" width="5" height="3.9" fill="#18a08c"/>
<rect x="1385.60" y="272.4" width="1" height="14.8" fill="#f04655"/>
<rect x="1383.60" y="278.0" width="5" height="4.9" fill="#f04655"/>
<rect x="1392.75" y="276.4" width="1" height="21.7" fill="#f04655"/>
<rect x="1390.75" y="281.7" width="5" height="10.1" fill="#f04655"/>
<rect x="1399.90" y="289.2" width="1" height="28.6" fill="#f04655"/>
<rect x="1397.90" y="291.2" width="5" height="13.8" fill="#f04655"/>
<rect x="1407.05" y="279.3" width="1" height="31.6" fill="#18a08c"/>
<rect x="1405.05" y="280.7" width="5" height="23.9" fill="#18a08c"/>
<rect x="1414.20" y="278.4" width="1" height="10.9" fill="#f04655"/>
<rect x="1412.20" y="280.9" width="5" height="6.7" fill="#f04655"/>
<rect x="1421.35" y="283.3" width="1" height="27.6" fill="#f04655"/>
<rect x="1419.35" y="286.8" width="5" height="17.2" fill="#f04655"/>
<rect x="1428.50" y="297.1" width="1" height="7.5" fill="#18a08c"/>
<rect x="1426.50" y="302.0" width="5" height="1.0" fill="#18a08c"/>
<rect x="1435.65" y="298.1" width="1" height="11.8" fill="#18a08c"/>
<rect x="1433.65" y="302.0" width="5" height="1.0" fill="#18a08c"/>
<rect x="1442.80" y="298.1" width="1" height="53.3" fill="#f04655"/>
<rect x="1440.80" y="302.0" width="5" height="44.4" fill="#f04655"/>
<rect x="1449.95" y="330.7" width="1" height="48.4" fill="#18a08c"/>
<rect x="1447.95" y="338.2" width="5" height="7.9" fill="#18a08c"/>
<rect x="1457.10" y="336.6" width="1" height="29.6" fill="#f04655"/>
<rect x="1455.10" y="337.6" width="5" height="20.3" fill="#f04655"/>
<rect x="1464.25" y="348.4" width="1" height="17.8" fill="#18a08c"/>
<rect x="1462.25" y="356.3" width="5" height="1.6" fill="#18a08c"/>
<rect x="1471.40" y="356.3" width="1" height="43.4" fill="#f04655"/>
<rect x="1469.40" y="357.3" width="5" height="9.3" fill="#f04655"/>
<rect x="1478.55" y="354.3" width="1" height="14.8" fill="#18a08c"/>
<rect x="1476.55" y="358.3" width="5" height="8.3" fill="#18a08c"/>
<rect x="1485.70" y="248.7" width="1" height="111.5" fill="#18a08c"/>
<rect x="1483.70" y="255.7" width="5" height="103.6" fill="#18a08c"/>
<rect x="1492.85" y="249.7" width="1" height="91.8" fill="#f04655"/>
<rect x="1490.85" y="256.1" width="5" height="72.0" fill="#f04655"/>
<rect x="1500.00" y="307.0" width="1" height="47.4" fill="#18a08c"/>
<rect x="1498.00" y="319.2" width="5" height="8.9" fill="#18a08c"/>
<rect x="1507.15" y="306.0" width="1" height="14.8" fill="#18a08c"/>
<rect x="1505.15" y="312.9" width="5" height="6.9" fill="#18a08c"/>
<rect x="1514.30" y="291.2" width="1" height="25.7" fill="#18a08c"/>
<rect x="1512.30" y="298.7" width="5" height="14.6" fill="#18a08c"/>
<rect x="1521.45" y="296.1" width="1" height="38.5" fill="#f04655"/>
<rect x="1519.45" y="298.7" width="5" height="31.0" fill="#f04655"/>
<rect x="1528.60" y="324.3" width="1" height="16.2" fill="#f04655"/>
<rect x="1526.60" y="328.7" width="5" height="9.9" fill="#f04655"/>
<rect x="1535.75" y="333.6" width="1" height="42.4" fill="#f04655"/>
<rect x="1533.75" y="336.6" width="5" height="31.2" fill="#f04655"/>
<rect x="1542.90" y="346.4" width="1" height="44.4" fill="#f04655"/>
<rect x="1540.90" y="367.2" width="5" height="20.7" fill="#f04655"/>
<rect x="1550.05" y="355.3" width="1" height="52.3" fill="#18a08c"/>
<rect x="1548.05" y="360.6" width="5" height="26.2" fill="#18a08c"/>
<rect x="1557.20" y="345.5" width="1" height="21.7" fill="#18a08c"/>
<rect x="1555.20" y="351.0" width="5" height="10.9" fill="#18a08c"/>
<rect x="1564.35" y="332.6" width="1" height="22.7" fill="#18a08c"/>
<rect x="1562.35" y="348.8" width="5" height="3.2" fill="#18a08c"/>
<rect x="1571.50" y="327.7" width="1" height="23.7" fill="#18a08c"/>
<rect x="1569.50" y="332.6" width="5" height="17.8" fill="#18a08c"/>
<rect x="1578.65" y="313.9" width="1" height="20.7" fill="#18a08c"/>
<rect x="1576.65" y="328.1" width="5" height="5.5" fill="#18a08c"/>
<rect x="1585.80" y="324.7" width="1" height="21.7" fill="#f04655"/>
<rect x="1583.80" y="328.1" width="5" height="14.8" fill="#f04655"/>
<rect x="1592.95" y="329.7" width="1" height="13.8" fill="#18a08c"/>
<rect x="1590.95" y="336.2" width="5" height="6.3" fill="#18a08c"/>
<rect x="1600.10" y="334.6" width="1" height="17.8" fill="#f04655"/>
<rect x="1598.10" y="336.2" width="5" height="8.7" fill="#f04655"/>
<rect x="1607.25" y="300.1" width="1" height="46.4" fill="#18a08c"/>
<rect x="1605.25" y="307.0" width="5" height="37.9" fill="#18a08c"/>
<rect x="1614.40" y="304.0" width="1" height="23.7" fill="#f04655"/>
<rect x="1612.40" y="307.0" width="5" height="14.8" fill="#f04655"/>
<rect x="1621.55" y="315.8" width="1" height="17.8" fill="#f04655"/>
<rect x="1619.55" y="320.8" width="5" height="9.5" fill="#f04655"/>
<rect x="1628.70" y="323.7" width="1" height="8.9" fill="#f04655"/>
<rect x="1626.70" y="329.3" width="5" height="2.8" fill="#f04655"/>
<rect x="1635.85" y="320.4" width="1" height="12.2" fill="#18a08c"/>
<rect x="1633.85" y="320.8" width="5" height="10.9" fill="#18a08c"/>
<rect x="1643.00" y="312.9" width="1" height="12.8" fill="#18a08c"/>
<rect x="1641.00" y="318.8" width="5" height="3.0" fill="#18a08c"/>
<rect x="1650.15" y="313.9" width="1" height="12.8" fill="#f04655"/>
<rect x="1648.15" y="318.8" width="5" height="1.6" fill="#f04655"/>
<rect x="1657.30" y="313.9" width="1" height="22.7" fill="#f04655"/>
<rect x="1655.30" y="319.8" width="5" height="15.2" fill="#f04655"/>
<rect x="1664.45" y="328.2" width="1" height="12.8" fill="#f04655"/>
<rect x="1662.45" y="333.5" width="5" height="1.6" fill="#f04655"/>
<rect x="1671.60" y="334.1" width="1" height="28.6" fill="#f04655"/>
<rect x="1669.60" y="335.1" width="5" height="21.1" fill="#f04655"/>
<rect x="1678.75" y="352.9" width="1" height="26.6" fill="#f04655"/>
<rect x="1676.75" y="355.3" width="5" height="12.4" fill="#f04655"/>
<rect x="1685.90" y="354.9" width="1" height="17.8" fill="#18a08c"/>
<rect x="1683.90" y="366.3" width="5" height="1.6" fill="#18a08c"/>
<rect x="1693.05" y="365.7" width="1" height="18.7" fill="#f04655"/>
<rect x="1691.05" y="366.7" width="5" height="9.5" fill="#f04655"/>
<rect x="1700.20" y="356.8" width="1" height="22.7" fill="#18a08c"/>
<rect x="1698.20" y="366.7" width="5" height="9.5" fill="#18a08c"/>
<rect x="1707.35" y="352.9" width="1" height="38.5" fill="#f04655"/>
<rect x="1705.35" y="366.7" width="5" height="20.1" fill="#f04655"/>
<rect x="1714.50" y="376.6" width="1" height="19.7" fill="#18a08c"/>
<rect x="1712.50" y="378.9" width="5" height="8.5" fill="#18a08c"/>
<rect x="1721.65" y="362.8" width="1" height="23.7" fill="#18a08c"/>
<rect x="1719.65" y="368.1" width="5" height="11.4" fill="#18a08c"/>
<rect x="1728.80" y="360.8" width="1" height="8.9" fill="#18a08c"/>
<rect x="1726.80" y="366.1" width="5" height="2.6" fill="#18a08c"/>
<rect x="1735.95" y="361.8" width="1" height="53.3" fill="#f04655"/>
<rect x="1733.95" y="365.7" width="5" height="38.5" fill="#f04655"/>
<rect x="1743.10" y="388.4" width="1" height="75.0" fill="#f04655"/>
<rect x="1741.10" y="404.2" width="5" height="3.9" fill="#f04655"/>
<rect x="1750.25" y="393.3" width="1" height="37.5" fill="#f04655"/>
<rect x="1748.25" y="408.1" width="5" height="19.7" fill="#f04655"/>
<rect x="1757.40" y="375.6" width="1" height="66.1" fill="#18a08c"/>
<rect x="1755.40" y="381.1" width="5" height="46.8" fill="#18a08c"/>
<rect x="1764.55" y="379.5" width="1" height="24.7" fill="#f04655"/>
<rect x="1762.55" y="380.9" width="5" height="17.4" fill="#f04655"/>
<rect x="1771.70" y="378.2" width="1" height="20.1" fill="#18a08c"/>
<rect x="1769.70" y="386.8" width="5" height="10.5" fill="#18a08c"/>
<rect x="1778.85" y="359.8" width="1" height="28.6" fill="#18a08c"/>
<rect x="1776.85" y="362.4" width="5" height="25.1" fill="#18a08c"/>
<rect x="1786.00" y="348.9" width="1" height="26.6" fill="#f04655"/>
<rect x="1784.00" y="362.4" width="5" height="8.3" fill="#f04655"/>
<rect x="1793.15" y="360.8" width="1" height="11.8" fill="#18a08c"/>
<rect x="1791.15" y="369.1" width="5" height="1.6" fill="#18a08c"/>
<rect x="1800.30" y="358.8" width="1" height="18.7" fill="#f04655"/>
<rect x="1798.30" y="369.1" width="5" height="7.5" fill="#f04655"/>
<rect x="1807.45" y="368.7" width="1" height="14.8" fill="#f04655"/>
<rect x="1805.45" y="376.0" width="5" height="1.6" fill="#f04655"/>
<rect x="1814.60" y="370.7" width="1" height="10.9" fill="#f04655"/>
<rect x="1812.60" y="376.6" width="5" height="3.6" fill="#f04655"/>
<rect x="1821.75" y="375.6" width="1" height="7.9" fill="#f04655"/>
<rect x="1819.75" y="377.6" width="5" height="2.0" fill="#f04655"/>
<rect x="1828.90" y="373.6" width="1" height="6.5" fill="#18a08c"/>
<rect x="1826.90" y="375.0" width="5" height="4.5" fill="#18a08c"/>
<rect x="1836.05" y="373.6" width="1" height="8.9" fill="#f04655"/>
<rect x="1834.05" y="375.0" width="5" height="3.2" fill="#f04655"/>
<rect x="1843.20" y="364.7" width="1" height="14.8" fill="#18a08c"/>
<rect x="1841.20" y="375.6" width="5" height="3.0" fill="#18a08c"/>
<rect x="1850.35" y="346.0" width="1" height="32.6" fill="#18a08c"/>
<rect x="1848.35" y="354.9" width="5" height="21.3" fill="#18a08c"/>
<rect x="1857.50" y="340.1" width="1" height="17.8" fill="#18a08c"/>
<rect x="1855.50" y="353.9" width="5" height="1.4" fill="#18a08c"/>
<rect x="1864.65" y="351.9" width="1" height="16.8" fill="#f04655"/>
<rect x="1862.65" y="353.9" width="5" height="3.0" fill="#f04655"/>
<rect x="1871.80" y="353.9" width="1" height="8.9" fill="#f04655"/>
<rect x="1869.80" y="355.8" width="5" height="4.9" fill="#f04655"/>
<rect x="1878.95" y="348.9" width="1" height="12.2" fill="#18a08c"/>
<rect x="1876.95" y="357.8" width="5" height="3.0" fill="#18a08c"/>
<rect x="1886.10" y="341.0" width="1" height="22.7" fill="#18a08c"/>
<rect x="1884.10" y="348.5" width="5" height="10.3" fill="#18a08c"/>
<rect x="1893.25" y="329.2" width="1" height="23.7" fill="#18a08c"/>
<rect x="1891.25" y="342.0" width="5" height="7.9" fill="#18a08c"/>
<rect x="1900.40" y="338.1" width="1" height="14.8" fill="#f04655"/>
<rect x="1898.40" y="342.0" width="5" height="9.9" fill="#f04655"/>
<rect x="1907.55" y="348.0" width="1" height="19.7" fill="#f04655"/>
<rect x="1905.55" y="350.5" width="5" height="8.7" fill="#f04655"/>
<rect x="1914.70" y="348.0" width="1" height="11.2" fill="#18a08c"/>
<rect x="1912.70" y="354.9" width="5" height="3.6" fill="#18a08c"/>
<rect x="1921.85" y="349.9" width="1" height="7.9" fill="#f04655"/>
<rect x="1919.85" y="354.5" width="5" height="1.8" fill="#f04655"/>
<rect x="1929.00" y="354.5" width="1" height="6.7" fill="#f04655"/>
<rect x="1927.00" y="354.9" width="5" height="4.9" fill="#f04655"/>
<rect x="1936.15" y="353.5" width="1" height="12.7" fill="#f04655"/>
<rect x="1934.15" y="359.0" width="5" height="5.4" fill="#f04655"/>
<rect x="1943.30" y="357.2" width="1" height="14.9" fill="#f04655"/>
<rect x="1941.30" y="363.5" width="5" height="5.4" fill="#f04655"/>
<rect x="1950.45" y="363.5" width="1" height="11.8" fill="#18a08c"/>
<rect x="1948.45" y="364.4" width="5" height="4.5" fill="#18a08c"/>
<rect x="1957.60" y="359.9" width="1" height="13.6" fill="#f04655"/>
<rect x="1955.60" y="364.1" width="5" height="5.8" fill="#f04655"/>
<rect x="1964.75" y="338.1" width="1" height="32.1" fill="#18a08c"/>
<rect x="1962.75" y="339.4" width="5" height="30.5" fill="#18a08c"/>
<rect x="1971.90" y="320.8" width="1" height="22.7" fill="#18a08c"/>
<rect x="1969.90" y="334.5" width="5" height="5.4" fill="#18a08c"/>
<rect x="1979.05" y="314.5" width="1" height="21.8" fill="#18a08c"/>
<rect x="1977.05" y="316.3" width="5" height="19.4" fill="#18a08c"/>
<rect x="1986.20" y="314.5" width="1" height="21.8" fill="#f04655"/>
<rect x="1984.20" y="316.3" width="5" height="15.8" fill="#f04655"/>
<rect x="1993.35" y="290.9" width="1" height="43.6" fill="#18a08c"/>
<rect x="1991.35" y="305.4" width="5" height="26.3" fill="#18a08c"/>
<rect x="2000.50" y="299.1" width="1" height="24.5" fill="#18a08c"/>
<rect x="1998.50" y="301.8" width="5" height="4.5" fill="#18a08c"/>
<rect x="2007.65" y="291.4" width="1" height="18.9" fill="#f04655"/>
<rect x="2005.65" y="301.8" width="5" height="5.4" fill="#f04655"/>
<rect x="2014.80" y="304.5" width="1" height="29.1" fill="#f04655"/>
<rect x="2012.80" y="305.4" width="5" height="24.2" fill="#f04655"/>
<rect x="2021.95" y="319.9" width="1" height="14.5" fill="#f04655"/>
<rect x="2019.95" y="328.5" width="5" height="1.5" fill="#f04655"/>
<rect x="2029.10" y="328.1" width="1" height="14.5" fill="#f04655"/>
<rect x="2027.10" y="329.9" width="5" height="4.0" fill="#f04655"/>
<rect x="2036.25" y="320.5" width="1" height="15.8" fill="#18a08c"/>
<rect x="2034.25" y="322.7" width="5" height="10.9" fill="#18a08c"/>
<rect x="2043.40" y="320.5" width="1" height="23.1" fill="#f04655"/>
<rect x="2041.40" y="322.7" width="5" height="6.9" fill="#f04655"/>
<rect x="2050.55" y="322.7" width="1" height="13.6" fill="#f04655"/>
<rect x="2048.55" y="328.7" width="5" height="7.1" fill="#f04655"/>
<line x1="884.4" y1="161.9" x2="2044.8" y2="306" stroke="#30d992" stroke-width="3.5" stroke-linecap="butt"/>
<line x1="891.3" y1="409.6" x2="2009" y2="484" stroke="#30d992" stroke-width="3.5" stroke-linecap="butt"/>
<polyline points="10.2,858.3 20.2,857.7 33.8,856.8 50.1,855.8 68.0,854.7 86.5,853.5 104.7,852.4 121.5,851.5 136.0,850.8 148.3,850.3 159.5,850.0 169.8,849.8 179.5,849.7 188.9,849.6 198.2,849.5 207.7,849.3 217.6,849.1 228.0,848.8 238.7,848.5 249.5,848.1 260.3,847.8 270.9,847.3 281.1,846.9 290.9,846.4 300.0,845.9 308.5,845.3 316.4,844.6 324.0,843.9 331.1,843.2 338.0,842.4 344.7,841.6 351.4,840.9 358.0,840.2 364.4,839.5 370.5,838.9 376.4,838.2 382.1,837.5 387.9,836.9 393.8,836.3 399.9,835.7 406.5,835.1 413.6,834.6 421.0,834.1 428.8,833.6 436.7,833.2 444.6,832.7 452.3,832.3 459.8,831.9 466.8,831.4 473.5,830.9 480.1,830.4 486.5,829.9 492.7,829.3 498.6,828.8 504.2,828.4 509.5,828.0 514.4,827.6 518.7,827.3 522.3,827.0 525.4,826.8 528.3,826.7 531.1,826.5 534.1,826.4 537.6,826.4 541.6,826.4 546.3,826.5 551.3,826.6 556.7,826.7 562.3,826.9 568.1,827.2 573.8,827.4 579.5,827.8 585.0,828.1 590.4,828.5 595.8,829.0 601.2,829.5 606.6,830.1 612.0,830.7 617.3,831.2 622.4,831.7 627.4,832.1 632.3,832.5 637.2,832.8 642.0,833.0 646.7,833.3 651.3,833.5 655.7,833.7 659.8,833.9 663.7,834.0 667.2,834.1 670.4,834.3 673.4,834.4 676.1,834.4 678.8,834.4 681.6,834.4 684.4,834.3 687.4,834.0 690.6,833.6 694.0,833.2 697.4,832.7 700.8,832.0 704.2,831.4 707.6,830.6 711.0,829.8 714.2,829.0 717.3,828.1 720.3,827.1 723.3,826.1 726.2,825.0 729.1,823.9 732.0,822.7 735.0,821.5 737.9,820.3 740.9,819.1 743.8,817.8 746.8,816.5 749.8,815.2 752.7,813.8 755.7,812.4 758.6,810.8 761.6,809.2 764.5,807.5 767.4,805.7 770.3,803.8 773.2,801.8 776.1,799.8 779.0,797.7 782.1,795.6 785.3,793.4 788.7,791.1 792.3,788.7 796.0,786.3 799.8,783.8 803.5,781.3 807.2,778.7 810.6,776.2 813.7,773.7 816.5,771.2 819.2,768.8 821.6,766.3 823.9,763.9 826.2,761.4 828.3,758.9 830.5,756.5 832.6,754.0 834.7,751.5 836.8,749.0 838.8,746.5 840.7,744.0 842.6,741.5 844.5,739.0 846.4,736.6 848.4,734.2 850.4,731.9 852.4,729.7 854.3,727.5 856.3,725.4 858.3,723.3 860.2,721.2 862.2,719.0 864.2,716.8 866.2,714.5 868.3,712.1 870.4,709.6 872.5,707.1 874.6,704.7 876.5,702.4 878.4,700.3 880.0,698.5 881.3,697.1 882.3,696.2 883.0,695.5 883.7,695.0 884.5,694.3 885.5,693.4 887.0,692.1 889.0,690.1 891.7,687.5 894.8,684.3 898.4,680.8 902.2,677.0 906.2,673.0 910.3,668.9 914.2,664.9 918.0,661.1 921.6,657.3 925.2,653.4 928.9,649.5 932.5,645.6 936.1,641.7 939.8,637.8 943.4,634.1 947.0,630.6 950.6,627.2 954.2,623.9 957.9,620.8 961.5,617.7 965.1,614.7 968.8,611.7 972.4,608.8 976.0,606.0 979.5,603.3 982.9,600.8 986.2,598.4 989.6,596.0 993.1,593.7 996.7,591.2 1000.7,588.6 1005.0,585.7 1009.8,582.6 1014.9,579.4 1020.3,576.0 1025.9,572.5 1031.6,569.0 1037.4,565.4 1043.1,561.7 1048.6,558.1 1054.1,554.3 1059.8,550.4 1065.6,546.3 1071.3,542.2 1076.9,538.2 1082.2,534.4 1087.4,530.8 1092.1,527.6 1096.4,524.8 1100.4,522.4 1104.0,520.2 1107.5,518.2 1110.9,516.3 1114.2,514.3 1117.6,512.4 1121.1,510.2 1124.7,508.0 1128.3,505.8 1132.0,503.6 1135.6,501.3 1139.2,499.0 1142.8,496.6 1146.5,494.1 1150.1,491.4 1153.7,488.5 1157.3,485.3 1161.0,482.0 1164.6,478.6 1168.2,475.2 1171.8,471.8 1175.5,468.5 1179.1,465.3 1182.7,462.2 1186.3,459.2 1190.0,456.3 1193.6,453.3 1197.2,450.5 1200.8,447.6 1204.5,444.8 1208.1,442.1 1211.7,439.4 1215.1,436.9 1218.6,434.3 1222.0,431.9 1225.6,429.4 1229.2,426.9 1233.1,424.4 1237.1,421.8 1241.5,419.1 1246.4,416.2 1251.5,413.3 1256.7,410.4 1261.8,407.5 1266.6,404.8 1271.1,402.3 1274.9,400.0 1278.0,398.1 1280.4,396.5 1282.4,395.0 1284.2,393.8 1285.9,392.5 1287.8,391.3 1290.1,389.9 1293.0,388.3 1296.5,386.5 1300.4,384.6 1304.7,382.6 1309.1,380.5 1313.7,378.4 1318.2,376.4 1322.6,374.4 1326.7,372.6 1330.7,370.9 1334.6,369.2 1338.6,367.5 1342.4,366.0 1346.2,364.4 1349.8,363.0 1353.1,361.6 1356.3,360.3 1359.1,359.1 1361.6,358.1 1363.9,357.1 1366.0,356.2 1368.0,355.3 1370.2,354.4 1372.5,353.4 1375.0,352.3 1377.7,351.1 1380.3,349.9 1383.0,348.7 1385.8,347.4 1388.7,346.0 1392.0,344.6 1395.6,343.1 1399.6,341.5 1404.2,339.7 1409.5,337.8 1415.3,335.7 1421.2,333.5 1427.2,331.4 1433.0,329.4 1438.3,327.6 1443.0,326.1 1447.1,324.9 1450.7,323.9 1454.0,323.0 1457.0,322.3 1459.9,321.7 1462.8,321.1 1465.7,320.5 1468.7,319.8 1471.8,319.1 1474.9,318.5 1477.9,317.9 1480.9,317.4 1483.9,316.8 1487.0,316.2 1490.1,315.6 1493.4,314.9 1496.9,314.1 1500.6,313.3 1504.4,312.4 1508.3,311.5 1512.0,310.6 1515.7,309.8 1519.0,309.1 1522.0,308.5 1524.5,308.1 1526.5,307.8 1528.3,307.6 1529.8,307.5 1531.4,307.4 1533.2,307.4 1535.3,307.4 1537.8,307.4 1540.8,307.4 1544.0,307.5 1547.5,307.6 1551.1,307.8 1555.0,308.0 1559.0,308.1 1563.1,308.3 1567.4,308.4 1571.9,308.5 1576.6,308.6 1581.5,308.6 1586.5,308.7 1591.6,308.8 1596.7,308.8 1601.8,308.9 1606.8,308.9 1611.8,308.9 1617.0,308.9 1622.3,308.9 1627.5,308.9 1632.6,308.9 1637.5,308.9 1642.1,308.9 1646.3,308.9 1649.6,308.9 1651.8,309.0 1653.5,309.0 1655.1,309.0 1657.0,309.1 1659.9,309.2 1664.0,309.3 1670.0,309.5 1677.9,309.7 1687.2,310.0 1697.8,310.3 1709.3,310.6 1721.4,311.0 1733.9,311.4 1746.4,311.9 1758.7,312.4 1771.4,312.9 1784.9,313.5 1799.0,314.1 1813.2,314.7 1827.1,315.4 1840.4,316.2 1852.6,317.1 1863.3,318.0 1872.7,319.1 1881.2,320.4 1888.8,321.9 1895.6,323.3 1901.8,324.8 1907.3,326.1 1912.2,327.3 1916.6,328.2 1920.0,328.8 1922.2,329.1 1923.5,329.2 1924.4,329.2 1925.1,329.2 1926.0,329.3 1927.5,329.5 1930.0,330.0 1933.5,330.8 1937.7,331.7 1942.3,332.8 1947.3,334.0 1952.3,335.2 1957.3,336.3 1962.0,337.3 1966.3,338.1 1970.1,338.7 1973.8,339.1 1977.2,339.5 1980.5,339.8 1983.8,340.0 1987.0,340.1 1990.3,340.3 1993.6,340.5 1997.0,340.7 2000.3,340.8 2003.7,341.0 2007.0,341.1 2010.4,341.2 2013.8,341.3 2017.3,341.3 2020.8,341.4 2024.6,341.5 2028.8,341.5 2033.2,341.6 2037.5,341.6 2041.6,341.6 2045.3,341.7 2048.5,341.7 2050.8,341.7" fill="none" stroke="#ee6431" stroke-width="3.4" stroke-linejoin="round" stroke-linecap="round"/>
<polyline points="10.2,842.7 33.8,842.3 66.6,841.7 105.7,840.9 148.4,840.2 192.0,839.4 233.6,838.8 270.6,838.3 300.0,838.0 322.2,838.0 340.0,838.2 354.2,838.5 365.9,838.9 376.0,839.4 385.5,840.0 395.3,840.5 406.5,840.9 418.3,841.3 429.6,841.7 440.6,842.2 451.2,842.6 461.8,843.1 472.3,843.5 483.0,843.9 494.0,844.3 505.3,844.7 517.0,845.1 528.8,845.4 540.5,845.8 552.2,846.1 563.6,846.4 574.6,846.7 585.0,846.9 595.1,847.0 605.0,847.1 614.6,847.2 623.9,847.2 632.8,847.2 641.1,847.2 648.8,847.1 655.8,847.1 661.9,847.1 667.2,847.0 671.7,847.0 675.8,846.9 679.5,846.8 683.1,846.7 686.7,846.5 690.5,846.3 694.4,846.0 698.3,845.7 702.1,845.3 705.7,844.9 709.3,844.5 712.7,844.1 715.9,843.6 719.0,843.2 721.8,842.8 724.3,842.3 726.6,841.9 728.8,841.4 730.9,840.9 733.1,840.4 735.4,839.8 737.9,839.2 740.6,838.5 743.5,837.8 746.4,837.1 749.4,836.3 752.5,835.5 755.6,834.7 758.6,833.8 761.6,832.9 764.5,831.9 767.4,831.0 770.3,829.9 773.2,828.9 776.1,827.8 779.0,826.6 782.1,825.5 785.3,824.2 788.7,822.9 792.3,821.5 796.0,820.0 799.8,818.5 803.5,817.0 807.2,815.4 810.6,813.9 813.7,812.4 816.5,811.0 819.0,809.6 821.3,808.2 823.4,806.8 825.6,805.4 827.8,803.9 830.1,802.2 832.6,800.5 835.4,798.5 838.4,796.3 841.6,794.0 844.8,791.6 848.0,789.3 851.0,787.0 853.8,785.0 856.3,783.2 858.4,781.7 860.3,780.5 861.9,779.5 863.4,778.5 864.8,777.7 866.2,776.9 867.6,776.0 869.0,775.0 870.3,774.1 871.3,773.3 872.2,772.5 873.1,771.8 874.2,770.9 875.6,769.8 877.5,768.4 880.0,766.6 883.2,764.4 887.1,761.8 891.4,758.8 896.0,755.7 900.8,752.5 905.7,749.2 910.5,746.0 915.0,743.0 919.2,740.1 923.3,737.3 927.2,734.5 931.2,731.7 935.3,728.9 939.8,726.0 944.6,723.1 949.9,720.0 955.8,716.8 962.2,713.6 969.0,710.3 976.0,706.9 983.2,703.4 990.5,700.0 997.8,696.5 1005.0,693.0 1012.2,689.4 1019.7,685.7 1027.2,682.0 1034.8,678.2 1042.2,674.4 1049.5,670.8 1056.5,667.3 1063.1,664.0 1069.2,660.9 1075.0,658.0 1080.5,655.2 1085.8,652.6 1090.9,649.9 1096.1,647.4 1101.3,644.8 1106.6,642.2 1112.1,639.6 1117.8,637.0 1123.5,634.4 1129.3,631.9 1134.8,629.3 1140.2,626.8 1145.4,624.4 1150.1,621.9 1154.3,619.5 1158.0,617.3 1161.4,615.1 1164.6,612.9 1167.8,610.6 1171.2,608.3 1174.9,605.8 1179.1,603.1 1183.8,600.2 1189.0,597.0 1194.3,593.7 1199.9,590.3 1205.6,586.9 1211.4,583.5 1217.1,580.2 1222.6,577.0 1228.1,573.9 1233.8,570.7 1239.6,567.6 1245.3,564.5 1250.9,561.5 1256.3,558.7 1261.4,556.1 1266.2,553.8 1270.3,551.8 1273.8,550.3 1276.9,548.9 1279.8,547.7 1282.8,546.6 1286.3,545.3 1290.3,543.9 1295.2,542.2 1301.1,540.2 1307.7,538.0 1314.8,535.7 1322.4,533.3 1330.2,530.8 1338.0,528.3 1345.8,525.8 1353.2,523.3 1360.5,520.8 1367.7,518.3 1375.0,515.7 1382.2,513.1 1389.5,510.6 1396.7,508.0 1404.0,505.5 1411.2,503.0 1418.6,500.5 1426.3,497.9 1434.1,495.4 1441.9,492.8 1449.4,490.4 1456.6,488.1 1463.3,486.0 1469.2,484.1 1474.0,482.6 1477.6,481.5 1480.4,480.6 1483.0,479.8 1485.8,479.1 1489.3,478.2 1493.8,477.0 1500.0,475.4 1507.9,473.4 1517.2,471.1 1527.6,468.6 1538.7,465.9 1550.1,463.2 1561.5,460.4 1572.7,457.6 1583.1,455.0 1592.9,452.4 1602.3,449.8 1611.6,447.2 1620.8,444.6 1630.1,442.0 1639.7,439.4 1649.6,436.9 1660.0,434.4 1670.9,432.0 1682.2,429.7 1693.9,427.4 1705.7,425.2 1717.8,423.0 1730.0,420.7 1742.4,418.4 1754.7,416.0 1767.4,413.5 1780.5,410.8 1793.9,408.1 1807.4,405.4 1820.7,402.7 1833.7,400.1 1845.9,397.6 1857.4,395.3 1868.2,393.1 1878.5,391.1 1888.4,389.1 1897.9,387.2 1906.8,385.4 1915.1,383.8 1922.9,382.2 1930.0,380.8 1935.9,379.6 1940.5,378.7 1944.2,378.0 1947.4,377.4 1950.8,376.7 1954.7,375.9 1959.7,374.9 1966.3,373.5 1975.1,371.7 1986.0,369.4 1998.2,366.8 2010.8,364.1 2023.2,361.5 2034.5,359.1 2044.0,357.1 2050.8,355.7" fill="none" stroke="#4a7cea" stroke-width="3.4" stroke-linejoin="round" stroke-linecap="round"/>
<line x1="10" y1="1064.4" x2="2124.5" y2="1064.4" stroke="#8a8f9c" stroke-width="1" stroke-dasharray="6 5"/>
<line x1="10" y1="1124.5" x2="2124.5" y2="1124.5" stroke="#8a8f9c" stroke-width="1" stroke-dasharray="6 5"/>
<line x1="10" y1="1184.6" x2="2124.5" y2="1184.6" stroke="#8a8f9c" stroke-width="1" stroke-dasharray="6 5"/>
<polyline points="10.5,1099.5 13.3,1096.2 20.5,1115.7 27.6,1114.1 34.8,1129.4 41.9,1122.3 49.0,1117.6 56.2,1122.3 63.4,1126.1 70.5,1124.2 77.7,1122.7 84.8,1125.2 92.0,1103.9 99.1,1106.7 106.2,1103.7 113.4,1105.2 120.5,1096.6 127.7,1095.7 134.9,1108.0 142.0,1119.1 149.2,1134.3 156.3,1132.2 163.5,1137.6 170.6,1133.4 177.8,1133.7 184.9,1149.0 192.1,1129.6 199.2,1137.6 206.4,1137.6 213.5,1149.0 220.7,1164.8 227.8,1160.4 235.0,1154.7 242.1,1143.6 249.3,1142.3 256.4,1148.0 263.6,1117.6 270.7,1108.0 277.9,1090.9 285.0,1116.2 292.2,1103.9 299.3,1106.1 306.5,1104.8 313.6,1103.9 320.8,1105.8 327.9,1094.7 335.1,1107.1 342.2,1109.9 349.4,1103.9 356.5,1114.1 363.7,1106.1 370.8,1108.4 378.0,1083.3 385.1,1065.2 392.3,1100.4 399.4,1116.2 406.6,1154.7 413.7,1165.2 420.9,1154.3 428.0,1156.6 435.2,1153.2 442.3,1156.0 449.5,1153.7 456.6,1158.1 463.8,1150.9 470.9,1142.9 478.1,1142.3 485.2,1148.4 492.4,1130.3 499.5,1136.2 506.7,1129.6 513.8,1133.2 521.0,1130.9 528.1,1133.2 535.2,1128.0 542.4,1131.8 549.5,1144.8 556.7,1154.3 563.9,1144.2 571.0,1173.2 578.1,1157.0 585.3,1152.4 592.4,1148.0 599.6,1136.0 606.8,1141.9 613.9,1155.6 621.0,1150.3 628.2,1153.2 635.4,1160.8 642.5,1160.0 649.6,1142.3 656.8,1105.2 663.9,1092.2 671.1,1094.7 678.2,1089.6 685.4,1064.6 692.5,1044.3 699.7,1021.8 706.9,1037.0 714.0,1022.6 721.1,1008.1 728.3,993.8 735.5,1023.3 742.6,1019.1 749.8,1024.6 756.9,1024.3 764.0,1013.8 771.2,1003.3 778.4,1004.7 785.5,1016.3 792.6,1023.3 799.8,1029.0 807.0,1023.9 814.1,1019.1 821.2,1006.2 828.4,1000.8 835.5,993.8 842.7,988.7 849.9,1025.2 857.0,1046.2 864.1,1060.8 871.3,1051.9 878.5,1043.9 885.6,1044.8 892.8,1089.6 899.9,1080.4 907.0,1079.1 914.2,1085.2 921.4,1079.9 928.5,1082.3 935.6,1079.5 942.8,1076.2 950.0,1070.9 957.1,1101.9 964.2,1110.3 971.4,1106.5 978.5,1111.3 985.7,1115.7 992.9,1109.0 1000.0,1102.7 1007.1,1106.1 1014.3,1124.2 1021.5,1125.8 1028.6,1121.0 1035.8,1132.4 1042.9,1137.6 1050.0,1133.7 1057.2,1101.4 1064.3,1094.1 1071.5,1089.0 1078.7,1093.8 1085.8,1097.6 1093.0,1095.3 1100.1,1119.5 1107.2,1106.1 1114.4,1121.4 1121.5,1111.9 1128.7,1086.5 1135.8,1097.6 1143.0,1095.1 1150.2,1082.3 1157.3,1050.0 1164.5,1045.2 1171.6,1042.9 1178.8,1046.5 1185.9,1089.0 1193.0,1079.5 1200.2,1074.3 1207.3,1074.2 1214.5,1082.3 1221.7,1085.2 1228.8,1084.6 1236.0,1096.6 1243.1,1093.8 1250.2,1093.4 1257.4,1092.2 1264.5,1085.2 1271.7,1102.3 1278.8,1126.1 1286.0,1158.1 1293.2,1141.7 1300.3,1156.6 1307.5,1168.6 1314.6,1173.2 1321.8,1162.9 1328.9,1159.5 1336.0,1161.7 1343.2,1157.2 1350.3,1158.1 1357.5,1148.0 1364.7,1135.3 1371.8,1111.3 1379.0,1108.6 1386.1,1112.4 1393.2,1123.3 1400.4,1137.2 1407.5,1112.8 1414.7,1119.8 1421.9,1134.3 1429.0,1134.1 1436.2,1133.7 1443.3,1167.1 1450.5,1159.8 1457.6,1170.9 1464.8,1170.9 1471.9,1176.0 1479.0,1168.0 1486.2,1085.2 1493.4,1133.2 1500.5,1128.0 1507.7,1124.2 1514.8,1116.2 1522.0,1132.8 1529.1,1137.6 1536.2,1149.9 1543.4,1158.1 1550.5,1143.6 1557.7,1137.9 1564.9,1136.6 1572.0,1127.1 1579.2,1123.8 1586.3,1132.8 1593.5,1128.0 1600.6,1133.4 1607.8,1108.4 1614.9,1118.5 1622.0,1123.8 1629.2,1125.6 1636.4,1118.5 1643.5,1117.2 1650.7,1117.2 1657.8,1129.9 1665.0,1130.9 1672.1,1146.1 1679.2,1153.7 1686.4,1153.4 1693.5,1158.5 1700.7,1149.9 1707.9,1162.9 1715.0,1155.6 1722.2,1144.2 1729.3,1141.9 1736.5,1167.4 1743.6,1169.9 1750.8,1179.4 1757.9,1138.5 1765.0,1147.5 1772.2,1139.5 1779.4,1122.3 1786.5,1126.7 1793.7,1126.1 1800.8,1131.8 1808.0,1131.8 1815.1,1134.1 1822.2,1134.9 1829.4,1130.5 1836.5,1131.8 1843.7,1130.5 1850.9,1106.7 1858.0,1105.8 1865.2,1108.4 1872.3,1114.3 1879.5,1112.4 1886.6,1101.0 1893.8,1092.4 1900.9,1107.5 1908.0,1118.5 1915.2,1114.1 1922.4,1114.7 1929.5,1120.4 1936.7,1128.4 1943.8,1135.3 1951.0,1128.0 1958.1,1135.7 1965.2,1089.6 1972.4,1086.7 1979.5,1067.1 1986.7,1094.7 1993.9,1071.5 2001.0,1067.1 2008.2,1074.3 2015.3,1109.0 2022.5,1109.9 2029.6,1115.1 2036.8,1102.9 2043.9,1111.9 2051.1,1120.0" fill="none" stroke="#cfdcf7" stroke-width="2" stroke-linejoin="round" stroke-linecap="round"/>
<text x="2133.5" y="75.8" style="font-family:'Liberation Sans',sans-serif;font-size:12px;letter-spacing:0.65px;fill:#c5c8cf">5.0000</text>
<text x="2133.5" y="120.2" style="font-family:'Liberation Sans',sans-serif;font-size:12px;letter-spacing:0.65px;fill:#c5c8cf">4.4000</text>
<text x="2133.5" y="153.4" style="font-family:'Liberation Sans',sans-serif;font-size:12px;letter-spacing:0.65px;fill:#c5c8cf">4.0000</text>
<text x="2133.5" y="190.0" style="font-family:'Liberation Sans',sans-serif;font-size:12px;letter-spacing:0.65px;fill:#c5c8cf">3.6000</text>
<text x="2133.5" y="231.0" style="font-family:'Liberation Sans',sans-serif;font-size:12px;letter-spacing:0.65px;fill:#c5c8cf">3.2000</text>
<text x="2133.5" y="265.2" style="font-family:'Liberation Sans',sans-serif;font-size:12px;letter-spacing:0.65px;fill:#c5c8cf">2.9000</text>
<text x="2133.5" y="303.1" style="font-family:'Liberation Sans',sans-serif;font-size:12px;letter-spacing:0.65px;fill:#c5c8cf">2.6000</text>
<text x="2133.5" y="377.4" style="font-family:'Liberation Sans',sans-serif;font-size:12px;letter-spacing:0.65px;fill:#c5c8cf">2.1000</text>
<text x="2133.5" y="412.2" style="font-family:'Liberation Sans',sans-serif;font-size:12px;letter-spacing:0.65px;fill:#c5c8cf">1.9000</text>
<text x="2133.5" y="450.8" style="font-family:'Liberation Sans',sans-serif;font-size:12px;letter-spacing:0.65px;fill:#c5c8cf">1.7000</text>
<text x="2133.5" y="483.0" style="font-family:'Liberation Sans',sans-serif;font-size:12px;letter-spacing:0.65px;fill:#c5c8cf">1.5500</text>
<text x="2133.5" y="518.3" style="font-family:'Liberation Sans',sans-serif;font-size:12px;letter-spacing:0.65px;fill:#c5c8cf">1.4000</text>
<text x="2133.5" y="557.7" style="font-family:'Liberation Sans',sans-serif;font-size:12px;letter-spacing:0.65px;fill:#c5c8cf">1.2500</text>
<text x="2133.5" y="602.2" style="font-family:'Liberation Sans',sans-serif;font-size:12px;letter-spacing:0.65px;fill:#c5c8cf">1.1000</text>
<text x="2133.5" y="635.3" style="font-family:'Liberation Sans',sans-serif;font-size:12px;letter-spacing:0.65px;fill:#c5c8cf">1.0000</text>
<text x="2133.5" y="671.9" style="font-family:'Liberation Sans',sans-serif;font-size:12px;letter-spacing:0.65px;fill:#c5c8cf">0.9000</text>
<text x="2133.5" y="704.3" style="font-family:'Liberation Sans',sans-serif;font-size:12px;letter-spacing:0.65px;fill:#c5c8cf">0.8200</text>
<text x="2133.5" y="740.0" style="font-family:'Liberation Sans',sans-serif;font-size:12px;letter-spacing:0.65px;fill:#c5c8cf">0.7400</text>
<text x="2133.5" y="779.8" style="font-family:'Liberation Sans',sans-serif;font-size:12px;letter-spacing:0.65px;fill:#c5c8cf">0.6600</text>
<text x="2133.5" y="812.9" style="font-family:'Liberation Sans',sans-serif;font-size:12px;letter-spacing:0.65px;fill:#c5c8cf">0.6000</text>
<text x="2133.5" y="843.2" style="font-family:'Liberation Sans',sans-serif;font-size:12px;letter-spacing:0.65px;fill:#c5c8cf">0.5500</text>
<text x="2133.5" y="876.3" style="font-family:'Liberation Sans',sans-serif;font-size:12px;letter-spacing:0.65px;fill:#c5c8cf">0.5000</text>
<text x="2133.5" y="909.1" style="font-family:'Liberation Sans',sans-serif;font-size:12px;letter-spacing:0.65px;fill:#c5c8cf">0.4550</text>
<text x="2133.5" y="941.1" style="font-family:'Liberation Sans',sans-serif;font-size:12px;letter-spacing:0.65px;fill:#c5c8cf">0.4150</text>
<text x="2133.5" y="977.9" style="font-family:'Liberation Sans',sans-serif;font-size:12px;letter-spacing:0.65px;fill:#c5c8cf">100.00</text>
<text x="2133.5" y="1008.0" style="font-family:'Liberation Sans',sans-serif;font-size:12px;letter-spacing:0.65px;fill:#c5c8cf">90.00</text>
<text x="2133.5" y="1038.0" style="font-family:'Liberation Sans',sans-serif;font-size:12px;letter-spacing:0.65px;fill:#c5c8cf">80.00</text>
<text x="2133.5" y="1068.1" style="font-family:'Liberation Sans',sans-serif;font-size:12px;letter-spacing:0.65px;fill:#c5c8cf">70.00</text>
<text x="2133.5" y="1098.1" style="font-family:'Liberation Sans',sans-serif;font-size:12px;letter-spacing:0.65px;fill:#c5c8cf">60.00</text>
<text x="2133.5" y="1158.3" style="font-family:'Liberation Sans',sans-serif;font-size:12px;letter-spacing:0.65px;fill:#c5c8cf">40.00</text>
<text x="2133.5" y="1188.3" style="font-family:'Liberation Sans',sans-serif;font-size:12px;letter-spacing:0.65px;fill:#c5c8cf">30.00</text>
<rect x="2128" y="31" width="64" height="25.5" rx="3" fill="#0c0e13" stroke="#30343e" stroke-width="1"/>
<text x="2137" y="48.3" style="font-family:'Liberation Sans',sans-serif;font-size:12px;letter-spacing:-0.3px;fill:#e8e8e8">USDT</text>
<rect x="2125" y="327" width="65.8" height="31" rx="1.5" fill="#f54146"/>
<text x="2133.8" y="340" style="font-family:'Liberation Sans',sans-serif;font-size:12px;letter-spacing:0.55px;fill:#ffffff">2.3420</text>
<text x="2134" y="354.2" style="font-family:'Liberation Sans',sans-serif;font-size:12px;letter-spacing:0.3px;fill:#ffd9dc">13:39:28</text>
<rect x="2096.7" y="1111.9" width="75.5" height="17.2" rx="2" fill="#c8e1fa"/>
<rect x="2124" y="1111.9" width="1.2" height="17.2" fill="#151822"/>
<text x="2101.6" y="1124.8" style="font-family:'Liberation Sans',sans-serif;font-size:12px;letter-spacing:-1px;fill:#1a2a48">RSI</text>
<text x="2133.4" y="1124.8" style="font-family:'Liberation Sans',sans-serif;font-size:12px;letter-spacing:0.55px;fill:#1a2a48">51.39</text>
<text x="183.9" y="1223" text-anchor="middle" style="font-family:'Liberation Sans',sans-serif;font-size:12px;fill:#c5c8cf">Sep</text>
<text x="398.4" y="1223" text-anchor="middle" style="font-family:'Liberation Sans',sans-serif;font-size:12px;fill:#c5c8cf">Oct</text>
<text x="620.0" y="1223" text-anchor="middle" style="font-family:'Liberation Sans',sans-serif;font-size:12px;fill:#c5c8cf">Nov</text>
<text x="834.5" y="1223" text-anchor="middle" style="font-family:'Liberation Sans',sans-serif;font-size:12px;fill:#c5c8cf">Dec</text>
<text x="1056.2" y="1223" text-anchor="middle" style="font-family:'Liberation Sans',sans-serif;font-size:12px;font-weight:bold;letter-spacing:0.8px;fill:#c5c8cf">2025</text>
<text x="1277.8" y="1223" text-anchor="middle" style="font-family:'Liberation Sans',sans-serif;font-size:12px;fill:#c5c8cf">Feb</text>
<text x="1478.0" y="1223" text-anchor="middle" style="font-family:'Liberation Sans',sans-serif;font-size:12px;fill:#c5c8cf">Mar</text>
<text x="1699.7" y="1223" text-anchor="middle" style="font-family:'Liberation Sans',sans-serif;font-size:12px;fill:#c5c8cf">Apr</text>
<text x="1914.2" y="1223" text-anchor="middle" style="font-family:'Liberation Sans',sans-serif;font-size:12px;fill:#c5c8cf">May</text>
<text x="10.2" y="19.6" style="font-family:'Liberation Sans',sans-serif;font-size:12px;letter-spacing:0.3px;fill:#e2e2e2;stroke:#e2e2e2;stroke-width:0.15px">Shayannv published on TradingView.com, May 20, 2025 10:20 UTC</text>
<g fill="#f0f0f0"><path d="M9.7 1244.1 h8.6 v10.6 h-4.4 v-7 h-4.2z"/><circle cx="20.5" cy="1245.9" r="1.8"/><path d="M24.5 1244.1 h5 l-3.6 10.6 h-4.7z"/></g>
<text x="34.6" y="1254.7" style="font-family:'Liberation Sans',sans-serif;font-size:13px;letter-spacing:-0.35px;font-weight:bold;fill:#f0f0f0">TradingView</text>
</svg>
</body></html>
